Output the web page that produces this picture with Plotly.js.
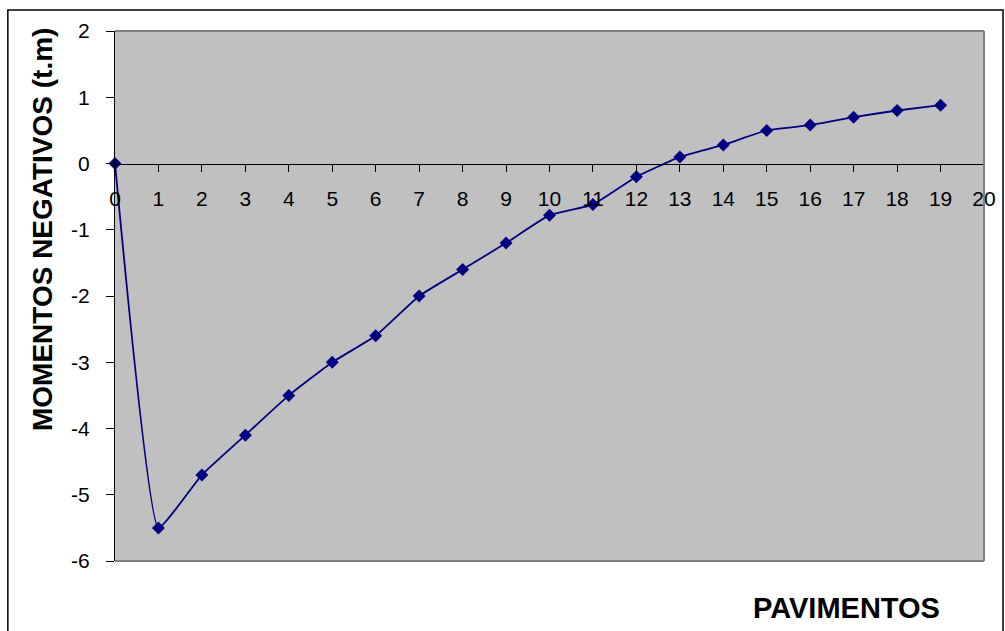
<!DOCTYPE html>
<html>
<head>
<meta charset="utf-8">
<script src="https://cdn.plot.ly/plotly-3.0.1.min.js"></script>
<style>
html,body{margin:0;padding:0;background:#fff;}
#chart{width:1005px;height:631px;}
</style>
</head>
<body>
<div id="chart"></div>
<script>
const pavimentos = [0,1,2,3,4,5,6,7,8,9,10,11,12,13,14,15,16,17,18,19];
const momentos = [0,-5.5,-4.7,-4.1,-3.5,-3.0,-2.6,-2.0,-1.6,-1.2,-0.78,-0.62,-0.2,0.1,0.28,0.5,0.58,0.7,0.8,0.88];
const xTickVals = [0,1,2,3,4,5,6,7,8,9,10,11,12,13,14,15,16,17,18,19,20];
const xTickText = ["0","1","2","3","4","5","6","7","8","9","10","11","12","13","14","15","16","17","18","19","20"];
const yTickVals = [-6,-5,-4,-3,-2,-1,0,1,2];
const yTickText = ["-6","-5","-4","-3","-2","-1","0","1","2"];
const xTitle = "PAVIMENTOS";
const yTitle = "MOMENTOS NEGATIVOS (t.m)";

const FONT = "Liberation Sans, Arial, sans-serif";

const trace = {
  x: pavimentos,
  y: momentos,
  type: "scatter",
  mode: "lines+markers",
  line: {color: "#000080", width: 1.8, shape: "spline", smoothing: 0.35},
  marker: {symbol: "diamond", size: 10, color: "#000080"},
  cliponaxis: false,
  hoverinfo: "skip"
};

const layout = {
  width: 1005,
  height: 631,
  margin: {l: 115, r: 21, t: 31, b: 70},
  paper_bgcolor: "#ffffff",
  plot_bgcolor: "#C0C0C0",
  showlegend: false,
  font: {family: FONT, size: 21, color: "#000"},
  xaxis: {
    range: [0, 20],
    tickmode: "array",
    tickvals: xTickVals,
    ticktext: xTickText,
    anchor: "free",
    position: 0.75,
    showline: true,
    linecolor: "#000",
    linewidth: 1,
    ticks: "outside",
    ticklen: 7,
    tickcolor: "#000",
    tickwidth: 1,
    showgrid: false,
    zeroline: false,
    ticklabelstandoff: 9,
    tickfont: {family: FONT, size: 21, color: "#000"}
  },
  yaxis: {
    range: [-6, 2],
    tickmode: "array",
    tickvals: yTickVals,
    ticktext: yTickText,
    showline: true,
    linecolor: "#000",
    linewidth: 1,
    ticks: "outside",
    ticklen: 8,
    tickcolor: "#000",
    tickwidth: 1,
    showgrid: false,
    zeroline: false,
    ticklabelstandoff: 12,
    tickfont: {family: FONT, size: 21, color: "#000"}
  },
  shapes: [
    {type: "line", xref: "paper", yref: "paper", x0: 0, x1: 1, y0: 1, y1: 1, line: {color: "#808080", width: 2}},
    {type: "line", xref: "paper", yref: "paper", x0: 1, x1: 1, y0: 0, y1: 1, line: {color: "#808080", width: 2}},
    {type: "line", xref: "paper", yref: "paper", x0: 0, x1: 1, y0: 0, y1: 0, line: {color: "#808080", width: 2}},
    {type: "rect", xref: "paper", yref: "paper", x0: -0.1233, x1: 1.0219, y0: -0.2, y1: 1.0396, line: {color: "#000", width: 1.5}, fillcolor: "rgba(0,0,0,0)"}
  ],
  annotations: [
    {text: yTitle, xref: "paper", yref: "paper", x: -0.084, y: 0.6245, xanchor: "center", yanchor: "middle", textangle: -90, showarrow: false, font: {family: FONT, size: 28, color: "#000", weight: "bold"}},
    {text: xTitle, xref: "paper", yref: "paper", x: 0.842, y: -0.0887, xanchor: "center", yanchor: "middle", showarrow: false, font: {family: FONT, size: 29, color: "#000", weight: "bold"}}
  ]
};

Plotly.newPlot("chart", [trace], layout, {staticPlot: true, displayModeBar: false});
</script>
</body>
</html>
